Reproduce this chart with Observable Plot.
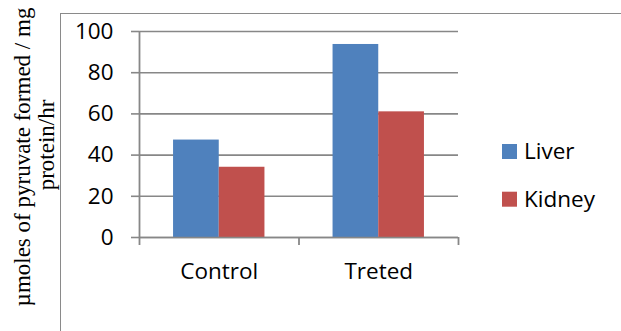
<!DOCTYPE html>
<html>
<head>
<meta charset="utf-8">
<script src="https://cdn.jsdelivr.net/npm/d3@7"></script>
<script src="https://cdn.jsdelivr.net/npm/@observablehq/plot@0.6"></script>
<style>
  html, body { margin: 0; padding: 0; background: #fff; }
  #wrap { position: relative; width: 621px; height: 331px; overflow: hidden; background: #fff; }
  #frame { position: absolute; left: 60px; top: 13px; width: 600px; height: 340px;
           border-top: 1.6px solid #8a8a8a; border-left: 1.6px solid #8a8a8a; }
  #chart { position: absolute; left: 0; top: 0; }
  #overlay { position: absolute; left: 0; top: 0; }
</style>
</head>
<body>
<div id="wrap">
  <div id="frame"></div>
  <div id="chart"></div>
  <svg id="overlay" width="621" height="331"></svg>
</div>
<script>
// ---- data ----
const categories = ["Control", "Treted"];
const series = ["Liver", "Kidney"];
const liverValues = [47.3, 93.7];
const kidneyValues = [34.1, 61.0];
const seriesColors = ["#4F81BD", "#C0504D"];
const yTicks = [0, 20, 40, 60, 80, 100];
const yTitleLines = ["µmoles of pyruvate formed / mg", "protein/hr"];

// ---- build table ----
const valuesBySeries = [liverValues, kidneyValues];
const rows = [];
categories.forEach((c, gi) => {
  series.forEach((s, si) => {
    rows.push({category: c, series: s, value: valuesBySeries[si][gi], gi, si});
  });
});

const barW = 0.2865; // bar width as fraction of a category band
const gray = "#878787";

const chart = Plot.plot({
  width: 621,
  height: 331,
  marginLeft: 139,
  marginRight: 163,
  marginTop: 31,
  marginBottom: 94,
  x: {domain: [0, categories.length], axis: null},
  y: {domain: [0, 100], axis: null},
  color: {domain: series, range: seriesColors},
  style: {fontFamily: "'Open Sans', sans-serif", fontSize: "22.5px", color: "#000", background: "transparent", overflow: "visible"},
  marks: [
    Plot.ruleY(yTicks, {stroke: gray, strokeWidth: 1.6}),
    Plot.rectY(rows, {
      x1: d => d.gi + 0.5 - barW + d.si * barW,
      x2: d => d.gi + 0.5 + d.si * barW,
      y1: 0,
      y2: "value",
      fill: "series"
    }),
    Plot.ruleY([0], {stroke: gray, strokeWidth: 1.6}),
    Plot.ruleX([0], {stroke: gray, strokeWidth: 1.8}),
    Plot.axisY({ticks: yTicks, tickSize: 8, tickPadding: 18, stroke: gray, strokeWidth: 1.6, fill: "#000", label: null}),
    Plot.axisX({ticks: d3.range(categories.length + 1), tickSize: 8, tickFormat: () => "", stroke: gray, strokeWidth: 1.8, label: null}),
    Plot.axisX({ticks: categories.map((c, i) => i + 0.5), tickSize: 0, tickPadding: 26,
                tickFormat: d => categories[Math.floor(d)], fill: "#000", label: null})
  ]
});
document.getElementById("chart").appendChild(chart);

// ---- overlay: y title and legend ----
const svg = d3.select("#overlay");
const titleG = svg.append("g")
  .attr("font-family", "'Liberation Serif', 'Times New Roman', serif")
  .attr("font-size", 23)
  .attr("fill", "#000");
const titlePos = [{x: 30, y: 157}, {x: 54, y: 145}];
yTitleLines.forEach((t, i) => {
  titleG.append("text")
    .attr("transform", `translate(${titlePos[i].x},${titlePos[i].y}) rotate(-90)`)
    .attr("text-anchor", "middle")
    .text(t);
});

const legendColor = chart.scale("color");
const lg = svg.append("g")
  .attr("font-family", "'Open Sans', sans-serif")
  .attr("font-size", 22.5)
  .attr("fill", "#000");
series.forEach((s, i) => {
  const y0 = 144 + i * 47.7;
  lg.append("rect").attr("x", 502).attr("y", y0).attr("width", 15).attr("height", 15)
    .attr("fill", legendColor.apply(s));
  lg.append("text").attr("x", 524).attr("y", y0 + 7.5).attr("dy", "0.35em").text(s);
});
</script>
</body>
</html>
